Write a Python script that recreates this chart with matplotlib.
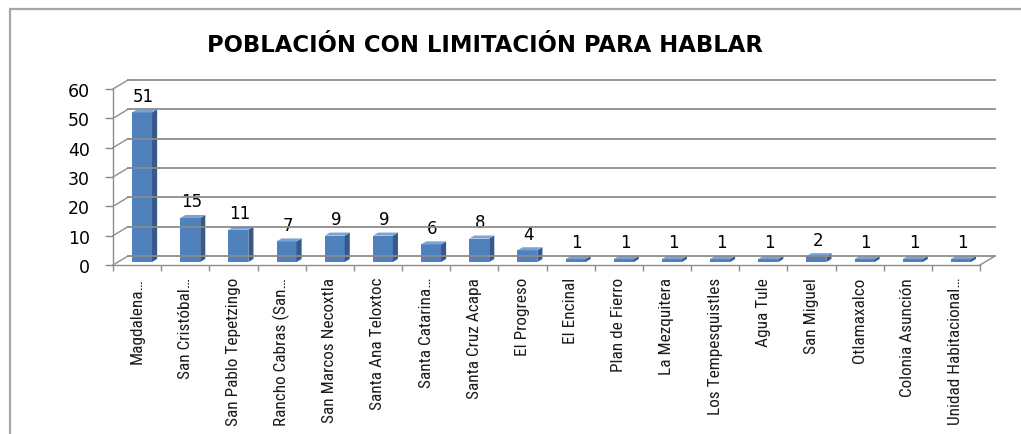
import matplotlib
matplotlib.use("Agg")
import matplotlib.pyplot as plt
import matplotlib.transforms as mtransforms
from matplotlib.patches import Polygon, Rectangle
from matplotlib.lines import Line2D
from matplotlib.ticker import FixedLocator
from matplotlib import font_manager
import numpy as np

# ---- data ----
categories = [
    "Magdalena…", "San Cristóbal…", "San Pablo Tepetzingo", "Rancho Cabras (San…",
    "San Marcos Necoxtla", "Santa Ana Teloxtoc", "Santa Catarina…", "Santa Cruz Acapa",
    "El Progreso", "El Encinal", "Plan de Fierro", "La Mezquitera",
    "Los Tempesquistles", "Agua Tule", "San Miguel", "Otlamaxalco",
    "Colonia Asunción", "Unidad Habitacional…",
]
values = [51, 15, 11, 7, 9, 9, 6, 8, 4, 1, 1, 1, 1, 1, 2, 1, 1, 1]
y_ticks = [0, 10, 20, 30, 40, 50, 60]
title = "POBLACIÓN CON LIMITACIÓN PARA HABLAR"

# ---- style ----
W, H, DPI = 1021, 435, 100
DX, DY = 15.0, 9.0          # depth offset of the back wall in pixels
F1, F2 = 0.33, 0.67         # depth span of the bars
BAR_W = 0.415
FRONT = "#4F81BD"
SIDE = "#36598A"
TOP = "#7BA3D6"
GRID = "#8C8C8C"

# choose a narrow font for the category labels if one is installed
installed = {f.name for f in font_manager.fontManager.ttflist}
label_font = dict(family=["Liberation Sans", "DejaVu Sans"], fontsize=10.3)
for name, size in (("Roboto Condensed", 12.4), ("Liberation Sans Narrow", 12.4),
                   ("Open Sans Condensed", 12.4)):
    if name in installed:
        label_font = dict(family=[name, "DejaVu Sans"], fontsize=size)
        break

fig = plt.figure(figsize=(W / DPI, H / DPI), dpi=DPI)
fig.patch.set_facecolor("white")

# outer chart border
fig.add_artist(Rectangle((9.5 / W, -0.1), 1.2, 1.1 - 9.5 / H, transform=fig.transFigure,
                         fill=False, edgecolor="#A6A6A6", linewidth=1.6))

ax = fig.add_axes([113 / W, 1 - 266 / H, (980 - 113) / W, (266 - 90) / H])
ax.set_xlim(-0.5, len(categories) - 0.5)
ax.set_ylim(0, 60)
ax.patch.set_visible(False)
for s in ("top", "right"):
    ax.spines[s].set_visible(False)
for s in ("left", "bottom"):
    ax.spines[s].set_color(GRID)
    ax.spines[s].set_linewidth(1.0)

ident = mtransforms.IdentityTransform()


def disp(x, y, f):
    px, py = ax.transData.transform((x, y))
    return (px + f * DX, py + f * DY)


n = len(categories)
xs = np.arange(n)
xmin, xmax = -0.5, n - 0.5

# back wall gridlines and left wall diagonals
for v in y_ticks:
    a, b = disp(xmin, v, 1), disp(xmax, v, 1)
    fig.add_artist(Line2D([a[0], b[0]], [a[1], b[1]], transform=ident, color=GRID, lw=1.3))
    c = disp(xmin, v, 0)
    fig.add_artist(Line2D([c[0], a[0]], [c[1], a[1]], transform=ident, color=GRID, lw=1.0))
# floor right edge
a, b = disp(xmax, 0, 0), disp(xmax, 0, 1)
fig.add_artist(Line2D([a[0], b[0]], [a[1], b[1]], transform=ident, color=GRID, lw=1.0))

# bars (front faces through the axes scales, shifted into depth)
front_tr = ax.transData + mtransforms.ScaledTranslation(F1 * DX / DPI, F1 * DY / DPI,
                                                        fig.dpi_scale_trans)
ax.bar(xs, values, width=BAR_W, color=FRONT, transform=front_tr, clip_on=False, zorder=3)
for x, v in zip(xs, values):
    r = x + BAR_W / 2
    l = x - BAR_W / 2
    side = [disp(r, 0, F1), disp(r, v, F1), disp(r, v, F2), disp(r, 0, F2)]
    top = [disp(l, v, F1), disp(r, v, F1), disp(r, v, F2), disp(l, v, F2)]
    ax.add_patch(Polygon(side, closed=True, transform=ident, facecolor=SIDE,
                         edgecolor="none", clip_on=False, zorder=3))
    ax.add_patch(Polygon(top, closed=True, transform=ident, facecolor=TOP,
                         edgecolor="none", clip_on=False, zorder=3))
    ax.annotate(str(v), xy=(x, v), xytext=(4.5, 10.5), textcoords="offset points",
                ha="center", va="baseline", fontsize=12, family="DejaVu Sans",
                color="black", annotation_clip=False, zorder=4)

# y axis ticks
ax.set_yticks(y_ticks)
ax.tick_params(axis="y", direction="out", length=5.8, width=1.0, color=GRID,
               pad=11.0, labelsize=12.5)
for t in ax.get_yticklabels():
    t.set_family("DejaVu Sans")

# x axis: boundary ticks (major), labels at centres (minor)
ax.xaxis.set_major_locator(FixedLocator(np.arange(n + 1) - 0.5))
ax.xaxis.set_minor_locator(FixedLocator(xs))
ax.set_xticklabels([""] * (n + 1))
ax.set_xticklabels(categories, minor=True, rotation=90, ha="center", va="top",
                   color="#1a1a1a", **label_font)
ax.tick_params(axis="x", which="major", direction="out", length=4, width=1.0, color=GRID)
ax.tick_params(axis="x", which="minor", length=0, pad=8.5)

fig.text(484.5 / W, 1 - 46 / H, title, ha="center", va="center", fontsize=16.4,
         fontweight="bold", family="DejaVu Sans", color="black")

fig.savefig("out.png", dpi=DPI)
